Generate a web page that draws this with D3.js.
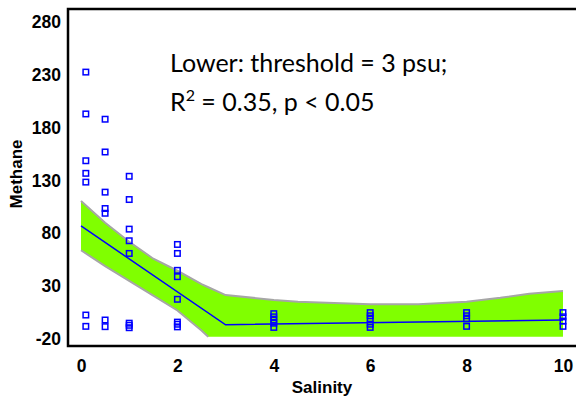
<!DOCTYPE html>
<html>
<head>
<meta charset="utf-8">
<script src="https://cdn.jsdelivr.net/npm/d3@7"></script>
<style>
  body { margin: 0; background: #fff; }
  svg { display: block; }
</style>
</head>
<body>
<div id="container"></div>
<script>
// observed points, one column of salinity per group
const salinity = [
  0.1, 0.1, 0.1, 0.1, 0.1, 0.1, 0.1,
  0.5, 0.5, 0.5, 0.5, 0.5, 0.5, 0.5,
  1, 1, 1, 1, 1, 1, 1, 1,
  2, 2, 2, 2, 2, 2, 2, 2,
  4, 4, 4, 4, 4,
  6, 6, 6, 6, 6,
  8, 8, 8, 8,
  10, 10, 10, 10
];
const methane = [
  232.6, 193, 148.7, 136.8, 128.5, 2.7, -8,
  188, 157, 119, 103.5, 99, -2, -8.3,
  134, 112, 84, 73, 61, -5, -7, -9.3,
  69.5, 61, 45, 39, 17.6, -4, -6, -8.5,
  4, 1, -2, -5, -9,
  5, 2, -1, -6, -9,
  5, 2, -1, -8,
  5, 1, -3, -8
];

// piecewise fit (threshold at 3 psu)
const fitX = [0, 3, 10];
const fitY = [87, -6.5, -2];

// confidence band
const bandX = [0, 0.5, 1, 1.5, 2, 2.5, 2.64, 3, 4, 4.5, 6, 7, 8, 8.7, 9.3, 10];
const bandUpper = [110.6, 90, 72, 56, 44.6, 32, 29, 21.6, 17, 15.3, 12.8, 13, 15.3, 19, 22.9, 25.5];
const bandLower = [64, 49, 35, 21, 7, -12, -17.8, -17.8, -17.8, -17.8, -17.8, -17.8, -17.8, -17.8, -17.8, -17.8];

const xTicks = [0, 2, 4, 6, 8, 10];
const yTicks = [-20, 30, 80, 130, 180, 230, 280];

const width = 576, height = 402;
const plotLeft = 68, plotRight = 576, plotTop = 9, plotBottom = 346;

const svg = d3.select("#container").append("svg")
  .attr("width", width)
  .attr("height", height);

const x = d3.scaleLinear().domain([-0.27, 10.27]).range([plotLeft, plotRight]);
const y = d3.scaleLinear().domain([-26.6, 292.3]).range([plotBottom, plotTop]);

const band = bandX.map((v, i) => ({ x: v, hi: bandUpper[i], lo: bandLower[i] }));

// band fill
svg.append("path")
  .attr("d", d3.area().x(d => x(d.x)).y0(d => y(d.lo)).y1(d => y(d.hi))(band))
  .attr("fill", "#80ff00");

// grey band edges
svg.append("path")
  .attr("d", d3.line().x(d => x(d.x)).y(d => y(d.hi))(band))
  .attr("fill", "none")
  .attr("stroke", "#a6a6a6")
  .attr("stroke-width", 2);
svg.append("path")
  .attr("d", d3.line().x(d => x(d.x)).y(d => y(d.lo))(band.filter(d => d.x <= 2.64)))
  .attr("fill", "none")
  .attr("stroke", "#a6a6a6")
  .attr("stroke-width", 2);

// fit line
svg.append("path")
  .attr("d", d3.line().x(d => x(d[0])).y(d => y(d[1]))(fitX.map((v, i) => [v, fitY[i]])))
  .attr("fill", "none")
  .attr("stroke", "#0000ff")
  .attr("stroke-width", 1.5);

// points
svg.selectAll("rect.pt")
  .data(salinity.map((s, i) => [s, methane[i]]))
  .enter().append("rect")
  .attr("class", "pt")
  .attr("x", d => x(d[0]) - 2.75)
  .attr("y", d => y(d[1]) - 2.75)
  .attr("width", 5.5)
  .attr("height", 5.5)
  .attr("fill", "none")
  .attr("stroke", "#0000ff")
  .attr("stroke-width", 1.5);

// axes
const xAxis = d3.axisBottom(x).tickValues(xTicks).tickSize(0).tickPadding(14)
  .tickFormat(d => String(d));
const yAxis = d3.axisLeft(y).tickValues(yTicks).tickSize(0).tickPadding(7)
  .tickFormat(d => String(d));

svg.append("g")
  .attr("transform", `translate(0, ${plotBottom})`)
  .call(xAxis)
  .call(g => g.select(".domain").remove());
svg.append("g")
  .attr("transform", `translate(${plotLeft}, 0)`)
  .call(yAxis)
  .call(g => g.select(".domain").remove());

svg.selectAll(".tick text")
  .attr("font-family", "Liberation Sans, Arial, sans-serif")
  .attr("font-weight", "bold")
  .attr("font-size", 17.5)
  .attr("fill", "#000");

// frame
svg.append("path")
  .attr("d", `M${plotRight},${plotTop}H${plotLeft}V${plotBottom}H${plotRight}`)
  .attr("fill", "none")
  .attr("stroke", "#000")
  .attr("stroke-width", 2.5);

// axis titles
svg.append("text")
  .attr("x", 322).attr("y", 393)
  .attr("text-anchor", "middle")
  .attr("font-family", "Liberation Sans, Arial, sans-serif")
  .attr("font-weight", "bold")
  .attr("font-size", 17)
  .text("Salinity");

svg.append("text")
  .attr("transform", "translate(22, 174) rotate(-90)")
  .attr("text-anchor", "middle")
  .attr("font-family", "Liberation Sans, Arial, sans-serif")
  .attr("font-weight", "bold")
  .attr("font-size", 17)
  .text("Methane");

// annotation
const note = svg.append("g")
  .attr("font-family", "Lato, 'Open Sans', sans-serif")
  .attr("font-size", 25)
  .attr("fill", "#000");
note.append("text").attr("x", 170).attr("y", 72).text("Lower: threshold = 3 psu;");
const t2 = note.append("text").attr("x", 170).attr("y", 111);
t2.append("tspan").text("R");
t2.append("tspan").attr("dy", -10).attr("font-size", 16).text("2");
t2.append("tspan").attr("dy", 10).text(" = 0.35, p < 0.05");
</script>
</body>
</html>
